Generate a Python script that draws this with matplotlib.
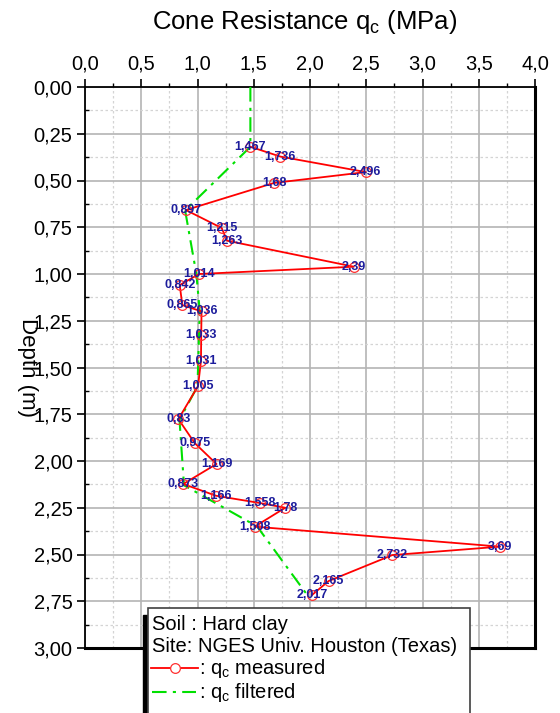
import matplotlib
matplotlib.use("Agg")
import matplotlib.pyplot as plt
from matplotlib.lines import Line2D
from matplotlib.patches import Rectangle
from matplotlib.ticker import MultipleLocator, FuncFormatter

plt.rcParams['font.family'] = ['Liberation Sans', 'DejaVu Sans']

# measured cone resistance (MPa) vs depth (m)
depth_measured = [0.319, 0.372, 0.455, 0.513, 0.658, 0.754, 0.822, 0.961, 1.0,
                  1.059, 1.166, 1.20, 1.326, 1.464, 1.599, 1.776, 1.904, 2.016,
                  2.123, 2.186, 2.225, 2.25, 2.351, 2.458, 2.503, 2.642, 2.717]
qc_measured = [1.467, 1.736, 2.496, 1.68, 0.897, 1.215, 1.263, 2.39, 1.014,
               0.842, 0.865, 1.036, 1.033, 1.031, 1.005, 0.83, 0.975, 1.169,
               0.873, 1.166, 1.558, 1.78, 1.508, 3.69, 2.732, 2.165, 2.017]

# filtered profile
depth_filtered = [0.0, 0.32, 0.66, 1.0, 1.2, 1.6, 1.78, 2.13, 2.35, 2.72]
qc_filtered = [1.47, 1.47, 0.89, 0.99, 1.02, 1.0, 0.84, 0.88, 1.53, 1.98]

comma = lambda fmt: FuncFormatter(lambda v, p: format(v, fmt).replace('.', ','))

fig = plt.figure(figsize=(5.6, 7.13), dpi=100)
ax = fig.add_axes([85 / 560, 1 - 648 / 713, 450 / 560, 561 / 713])

ax.plot(qc_filtered, depth_filtered, color="#00e000", lw=1.5,
        dashes=(7, 3, 1.5, 3), zorder=3)
ax.plot(qc_measured, depth_measured, "-", color="#ff0000", lw=1.3, zorder=4)
ax.plot(qc_measured, depth_measured, "o", mfc="none", mec="#ff3030", ms=7,
        mew=0.9, zorder=5)
for q, d in zip(qc_measured, depth_measured):
    ax.text(q, d, str(q).replace('.', ','), ha="center", va="center",
            fontsize=9, fontweight="bold", color="#1c1c9c", zorder=6)

ax.set_xlim(0, 4)
ax.set_ylim(3, 0)
ax.xaxis.set_major_locator(MultipleLocator(0.5))
ax.xaxis.set_minor_locator(MultipleLocator(0.25))
ax.yaxis.set_major_locator(MultipleLocator(0.25))
ax.yaxis.set_minor_locator(MultipleLocator(0.125))
ax.xaxis.set_major_formatter(comma(".1f"))
ax.yaxis.set_major_formatter(comma(".2f"))
ax.xaxis.tick_top()
ax.tick_params(axis="x", which="major", direction="out", length=6, width=1.2,
               labelsize=14.5, pad=4)
ax.tick_params(axis="x", which="minor", direction="out", length=3, width=1)
ax.tick_params(axis="y", which="major", direction="out", length=6, width=1.2,
               labelsize=14.5, pad=3)
ax.tick_params(axis="y", which="minor", direction="in", length=3, width=1)

ax.grid(which="major", color="#b4b4b4", lw=1.2, ls="-")
ax.grid(which="minor", color="#d4d4d4", lw=0.9, ls=(0, (2, 2)))
ax.set_axisbelow(True)

ax.spines["top"].set_linewidth(1.3)
ax.spines["left"].set_linewidth(1.3)
ax.spines["right"].set_linewidth(2.2)
ax.spines["bottom"].set_linewidth(2.2)

fig.text(305 / 560, 1 - 22 / 713, "Cone Resistance q$_\\mathregular{c}$ (MPa)",
         ha="center", va="center", fontsize=18.5)
fig.text(27 / 560, 1 - 368 / 713, "Depth (m)", rotation=270, ha="center",
         va="center", fontsize=16)

# legend box drawn in figure pixels
def fx(x):
    return x / 560

def fy(y):
    return 1 - y / 713

fig.patches.append(Rectangle((fx(143), fy(713)), fx(6), fy(615) - fy(713),
                             transform=fig.transFigure, color="black", zorder=9))
fig.patches.append(Rectangle((fx(148), fy(716)), fx(322), fy(608) - fy(716),
                             transform=fig.transFigure, fc="white",
                             ec="#404040", lw=1.2, zorder=10))
fig.text(fx(152), fy(624), "Soil : Hard clay", ha="left", va="center",
         fontsize=14.5, zorder=11)
fig.text(fx(152), fy(647), "Site: NGES Univ. Houston (Texas)", ha="left",
         va="center", fontsize=14.5, zorder=11)
fig.lines.append(Line2D([fx(151), fx(198)], [fy(668), fy(668)],
                        transform=fig.transFigure, color="#ff0000", lw=1.3,
                        zorder=11))
fig.lines.append(Line2D([fx(175)], [fy(668)], transform=fig.transFigure,
                        marker="o", mfc="white", mec="#ff3030", ms=7, mew=0.9,
                        zorder=12))
fig.lines.append(Line2D([fx(152), fx(196)], [fy(692), fy(692)],
                        transform=fig.transFigure, color="#00e000", lw=1.5,
                        dashes=(7, 3, 1.5, 3), zorder=11))
fig.text(fx(199), fy(668), ": q$_\\mathregular{c}$ measured", ha="left",
         va="center", fontsize=14.5, zorder=11)
fig.text(fx(199), fy(692), ": q$_\\mathregular{c}$ filtered", ha="left",
         va="center", fontsize=14.5, zorder=11)

fig.savefig("out.png", dpi=100)
